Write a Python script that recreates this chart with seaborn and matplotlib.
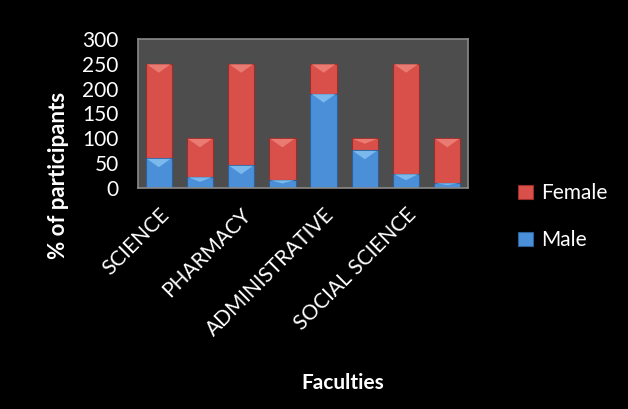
import matplotlib
matplotlib.use("Agg")
import matplotlib.pyplot as plt
from matplotlib.patches import Polygon
import seaborn as sns
import numpy as np
import pandas as pd

# Faculty groups (labels shown on every other bar)
tick_labels = ["SCIENCE", "", "PHARMACY", "", "ADMINISTRATIVE", "", "SOCIAL SCIENCE", ""]
male = [60, 23, 46, 17, 190, 76, 29, 11]
female = [190, 77, 204, 83, 60, 24, 221, 89]

sns.set_theme(style="dark")
plt.rcParams["font.family"] = ["Lato", "DejaVu Sans"]

df = pd.DataFrame({
    "pos": list(range(len(male))),
    "Male": male,
    "Female": female,
})
df["Total"] = df["Male"] + df["Female"]

red = "#d9504a"
blue = "#4a8fd8"
red_hi = "#f08a80"
blue_hi = "#8cc8f5"

fig = plt.figure(figsize=(6.28, 4.09), dpi=100, facecolor="black")
ax = fig.add_axes([0.22, 0.54, 0.525, 0.365])
ax.set_facecolor("#4d4d4d")

sns.barplot(data=df, x="pos", y="Total", color=red, saturation=1, width=0.64,
            edgecolor="#9a2e2a", linewidth=0.8, ax=ax, native_scale=True,
            label="Female", legend=False)
n_female = len(ax.patches)
sns.barplot(data=df, x="pos", y="Male", color=blue, saturation=1, width=0.64,
            edgecolor="#2d5f99", linewidth=0.8, ax=ax, native_scale=True,
            label="Male", legend=False)

ax.set_xlim(-0.5, len(male) - 0.5)
ax.set_ylim(0, 300)

# bevelled highlight at the top of each stacked segment
bars = list(ax.patches)
for i, p in enumerate(bars):
    x0, w = p.get_x(), p.get_width()
    top = p.get_y() + p.get_height()
    if i < n_female:
        seg = female[i]
        hi = red_hi
    else:
        seg = male[i - n_female]
        hi = blue_hi
    depth = min(18, seg * 0.45)
    tri = Polygon([(x0 + 0.03, top - 1), (x0 + w - 0.03, top - 1),
                   (x0 + w / 2, top - depth)], closed=True,
                  facecolor=hi, edgecolor="none", alpha=0.75, zorder=p.get_zorder() + 0.1)
    ax.add_patch(tri)

ax.set_yticks(range(0, 301, 50))
ax.tick_params(axis="y", colors="white", labelsize=15, length=0, pad=14)
ax.set_xticks(range(len(male)))
ax.set_xticklabels(tick_labels, rotation=45, ha="right", rotation_mode="anchor",
                   color="white", fontsize=15)
ax.tick_params(axis="x", length=0, pad=12)
for lab in ax.get_yticklabels():
    lab.set_color("white")

for side, sp in ax.spines.items():
    sp.set_visible(True)
    sp.set_color("#8a8a8a")
    sp.set_linewidth(1.2)

ax.set_xlabel("")
ax.set_ylabel("")
handles, labels = ax.get_legend_handles_labels()
if ax.get_legend() is not None:
    ax.get_legend().remove()

fig.text(0.093, 0.57, "% of participants", color="white", fontsize=16,
         fontweight="bold", ha="center", va="center", rotation=90)
fig.text(0.546, 0.063, "Faculties", color="white", fontsize=15, fontweight="bold",
         ha="center", va="center")

fig.legend(handles, labels, loc="center left", bbox_to_anchor=(0.795, 0.47),
           frameon=False, fontsize=15, labelcolor="white",
           handlelength=0.7, handleheight=0.7, handletextpad=0.4,
           labelspacing=1.3)

fig.savefig("out.png", dpi=100, facecolor="black")
